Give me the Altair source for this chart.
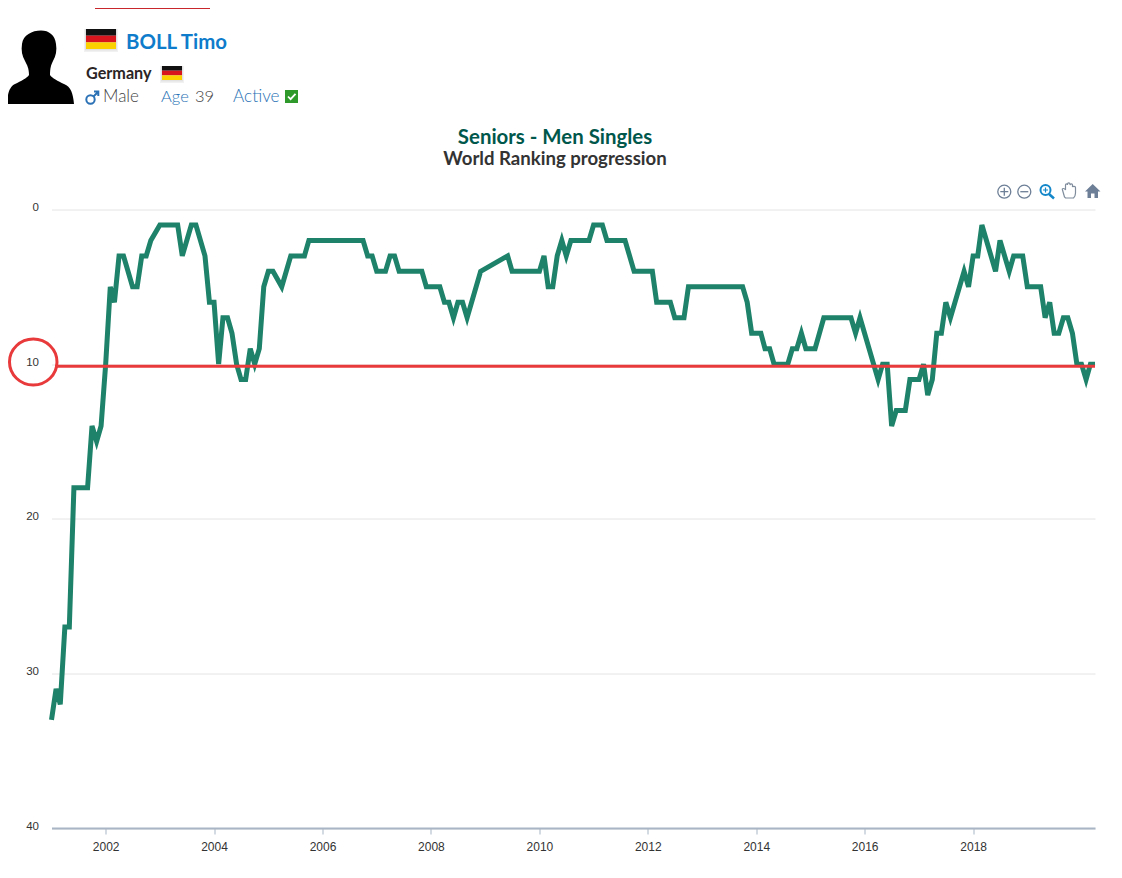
import altair as alt
import pandas as pd

# months elapsed since January 2001, and the world ranking at that month
months = [0, 1, 2, 3, 4, 5, 8, 9, 10, 11, 12, 13, 14, 15, 16, 18, 19, 20, 21, 22, 24, 28, 29, 31, 32, 34, 35, 36, 37, 38,
          39, 40, 41, 42, 43, 44, 45, 46, 47, 48, 49, 51, 53, 56, 57, 69, 70, 71, 72, 74, 75, 76, 77, 82, 83, 86, 87, 88, 89, 90,
          91, 92, 95, 101, 102, 108, 109, 110, 111, 112, 113, 114, 115, 119, 120, 122, 123, 127, 129, 133, 134, 137, 138, 140, 141, 153, 154, 155, 157, 158,
          159, 160, 163, 164, 165, 166, 167, 169, 171, 177, 178, 179, 183, 184, 185, 186, 187, 189, 190, 192, 193, 194, 195, 196, 197, 198, 199, 202, 203, 204,
          205, 206, 209, 210, 212, 213, 215, 216, 219, 220, 221, 222, 223, 224, 225, 226, 227, 228, 229, 230, 231]
ranks = [33, 31, 32, 27, 27, 18, 18, 14, 15, 14, 10, 5, 6, 3, 3, 5, 5, 3, 3, 2, 1, 1, 3, 1, 1, 3, 6, 6, 10, 7,
         7, 8, 10, 11, 11, 9, 10, 9, 5, 4, 4, 5, 3, 3, 2, 2, 3, 3, 4, 4, 3, 3, 4, 4, 5, 5, 6, 6, 7, 6,
         6, 7, 4, 3, 4, 4, 3, 5, 5, 3, 2, 3, 2, 2, 1, 1, 2, 2, 4, 4, 6, 6, 7, 7, 5, 5, 6, 8, 8, 9,
         9, 10, 10, 9, 9, 8, 9, 9, 7, 7, 8, 7, 11, 10, 10, 14, 13, 13, 11, 11, 10, 12, 11, 8, 8, 6, 7, 4, 5, 3,
         3, 1, 4, 2, 4, 3, 3, 5, 5, 7, 6, 8, 8, 7, 7, 8, 10, 10, 11, 10, 10]
x_ticks = [2002, 2004, 2006, 2008, 2010, 2012, 2014, 2016, 2018]
y_ticks = [0, 10, 20, 30, 40]
threshold = [10]

GREEN = "#1d8269"
RED = "#e8393b"
BLUE = "#2a72b5"
SLATE = "#6d7f96"
HEAD = "Lato"

# the plot area's top-left corner on the page
OX, OY = 51.5, 209.5
W, H = 1043.5, 618.5

df = pd.DataFrame({
    "date": [f"{2001 + m // 12}-{m % 12 + 1:02d}-01T00:00:00" for m in months],
    "rank": ranks,
})

line = alt.Chart(df).mark_line(color=GREEN, strokeWidth=5, strokeJoin="miter").encode(
    x=alt.X("date:T", title=None,
            scale=alt.Scale(domain=["2001-01-01T00:00:00", "2020-04-01T00:00:00"]),
            axis=alt.Axis(values=[alt.DateTime(year=y) for y in x_ticks], format="%Y", grid=False,
                          domainColor="#a9b5c4", domainWidth=2, tickColor="#a9b5c4", tickSize=6,
                          labelColor="#333333", labelFont="Liberation Sans", labelFontSize=12,
                          labelPadding=7, labelOverlap=False)),
    y=alt.Y("rank:Q", title=None,
            scale=alt.Scale(domain=[0, 40], reverse=True, nice=False, zero=False),
            axis=alt.Axis(values=y_ticks, grid=True, gridColor="#e4e4e4", gridWidth=1, domain=False, ticks=False,
                          labelColor="#333333", labelFont="Liberation Sans", labelFontSize=11.5,
                          labelPadding=13, labelOffset=-2)),
)

rule = alt.Chart(pd.DataFrame({"rank": threshold})).mark_rule(color=RED, strokeWidth=3, yOffset=2).encode(
    y=alt.Y("rank:Q"), x=alt.value(3.5), x2=alt.value(W))


def one(tag):
    return alt.Chart(alt.Data(values=[{"tag": tag}]))


def text(s, px, py, size, color, weight="normal", align="left", font=HEAD):
    return one(s).mark_text(align=align, baseline="alphabetic", fontSize=size, fontWeight=weight,
                            font=font, color=color).encode(
        x=alt.value(px - OX), y=alt.value(py - OY), text=alt.value(s))


def shape(path, fill=None, stroke=None, width=1.0):
    # a size of 4 draws the path at 1:1, so with the anchor at the page's origin it is in page pixels
    kw = dict(shape=path, size=4, opacity=1)
    if fill:
        kw.update(filled=True, fill=fill, strokeWidth=0)
    else:
        kw.update(filled=False, stroke=stroke, strokeWidth=width)
    return one(path[:24]).mark_point(**kw).encode(x=alt.value(-OX), y=alt.value(-OY))


def box(x0, y0, x1, y1, color):
    return shape(f"M{x0},{y0}H{x1}V{y1}H{x0}Z", fill=color)


def flag(x0, y0, x1, y1):
    h = (y1 - y0) / 3
    return [
        shape(f"M{x0-2},{y0}H{x1+2}V{y1+3}H{x0-2}Z", fill="#f1f1f1"),
        shape(f"M{x0-1},{y0}H{x1+1}V{y1+1.5}H{x0-1}Z", fill="#e2e2e2"),
        box(x0, y0, x1, y0 + h, "#111111"),
        box(x0, y0 + h, x1, y0 + 2 * h, "#d8141c"),
        box(x0, y0 + 2 * h, x1, y1, "#fbd100"),
    ]


def circle(cx, cy, r):
    return f"M{cx-r},{cy}A{r},{r},0,1,1,{cx+r},{cy}A{r},{r},0,1,1,{cx-r},{cy}Z"


avatar = ("M41,30.5C49,30.5 55,35 56,44C57,50 56,56 53,61C51,65 50,68 50,75C52,78 58,81 64,84"
          "C71,87 73,93 74,104H8V95C9,90 11,86 15,84C21,81 27,78 29,75C29,68 27,65 25,61"
          "C22,56 21,50 22,44C23,35 32,30.5 41,30.5Z")
hand = ("M1064.5,197L1062.5,190C1061.5,188 1064.5,188 1065.5,190V185C1065.5,183.5 1067.5,183.5 1067.5,185V184"
        "C1067.5,182.5 1070,182.5 1070,184V185C1070.5,183.5 1072.5,183.5 1072.5,185V187C1073,186 1075.5,186 1075.5,187.5V193"
        "C1075.5,196 1074.5,197 1073.5,198H1065.5Z")
home = "M1092.7,184L1100.5,191.5H1098V198H1094.5V193.5H1091V198H1087.5V191.5H1085Z"

layers = [
    line, rule,
    shape("M9.5,362A23.75,23,0,1,1,57,362A23.75,23,0,1,1,9.5,362Z", stroke=RED, width=3),
    box(95, 8, 210, 9, "#c8282c"),
    shape(avatar, fill="#000000"),
    *flag(86, 29, 116, 49),
    text("BOLL Timo", 126, 49, 20.4, "#0f7ccb", "bold"),
    text("Germany", 86, 79, 16.2, "#2b2526", "bold"),
    *flag(162, 66, 182, 80),
    shape(circle(90.5, 99.5, 4.2), stroke=BLUE, width=2),
    shape("M93.5,96.5L98,92M94,91.5H98.3V96", stroke=BLUE, width=2),
    text("Male", 103, 102, 17, "#444444", 300),
    text("Age", 161, 102, 16.5, BLUE, 300),
    text("39", 195, 102, 16.5, "#444444", 300),
    text("Active", 233, 102, 17.2, BLUE, 300),
    shape("M285,90H298V103H285Z", fill="#2f9a2b"),
    shape("M288,96.5L290.6,99.2L295.5,93.8", stroke="#ffffff", width=1.8),
    text("Seniors - Men Singles", 555, 144, 20.4, "#00574b", "bold", "center"),
    text("World Ranking progression", 555, 165, 18.6, "#333333", "bold", "center"),
    shape(circle(1004.3, 191.7, 6.5), stroke=SLATE, width=1.3),
    shape("M1000.3,191.7H1008.3M1004.3,187.7V195.7", stroke=SLATE, width=1.3),
    shape(circle(1024.3, 191.7, 6.5), stroke=SLATE, width=1.3),
    shape("M1020.3,191.7H1028.3", stroke=SLATE, width=1.3),
    shape(circle(1045.5, 190, 5), stroke="#1387c9", width=2),
    shape("M1049,194L1054,198.5", stroke="#1387c9", width=2.5),
    shape("M1043,190H1048M1045.5,187.5V192.5", stroke="#1387c9", width=1.2),
    shape(hand, stroke="#7f8c9c", width=1.2),
    shape(home, fill=SLATE),
]

chart = alt.layer(*layers).resolve_scale(x="shared", y="shared").properties(
    width=W, height=H,
    autosize=alt.AutoSizeParams(type="none"),
    padding={"left": OX - 8, "top": OY - 8, "right": 16, "bottom": 34},
    background="#ffffff",
).configure_view(stroke=None)

chart.save("out.html", embed_options={"renderer": "svg", "actions": False})
